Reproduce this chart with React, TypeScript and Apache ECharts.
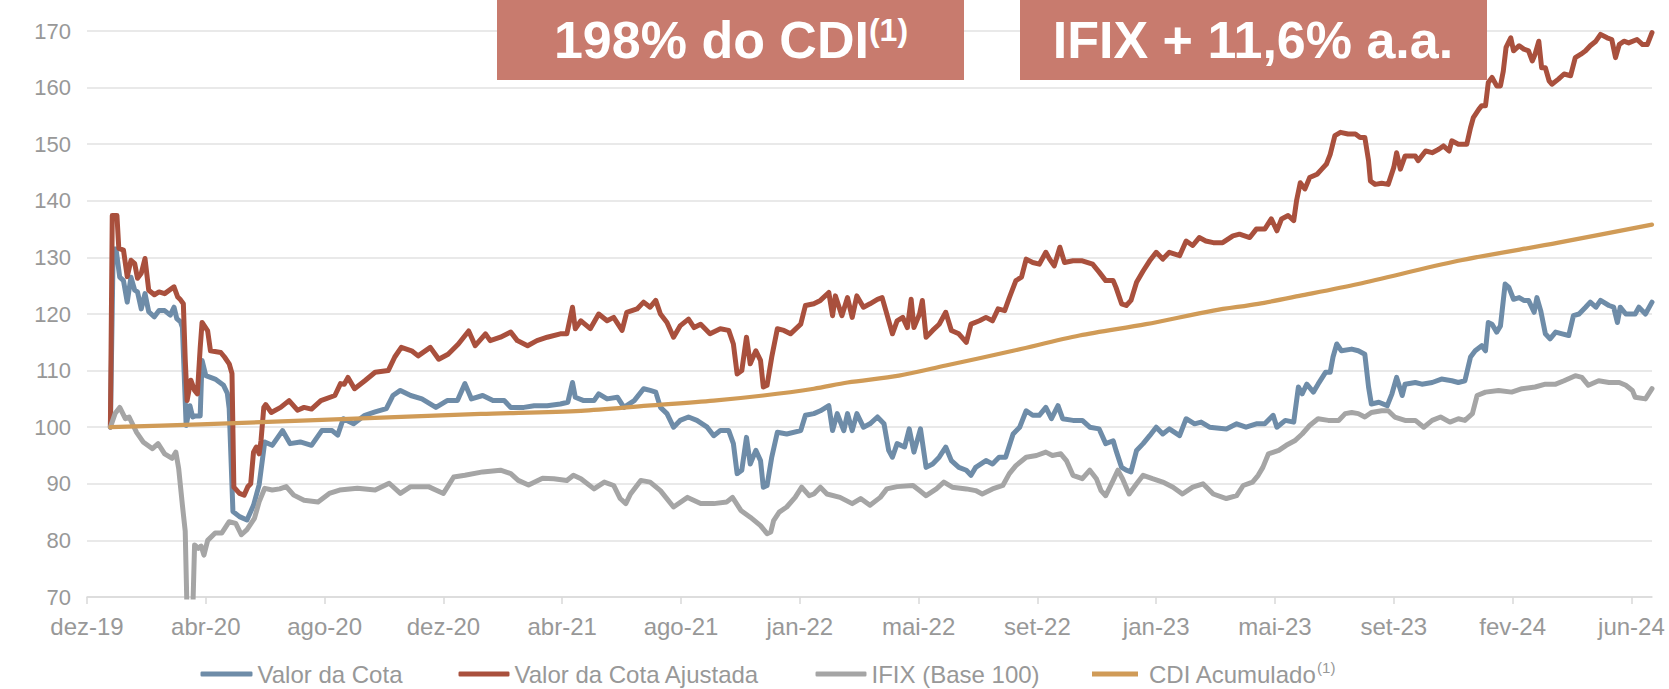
import React, { useEffect, useRef } from "react";
import * as echarts from "echarts";

// x values are calendar days counted from 1 Dec 2019; axis labels every 127 days
const xTickLabels = ["dez-19", "abr-20", "ago-20", "dez-20", "abr-21", "ago-21", "jan-22", "mai-22", "set-22", "jan-23", "mai-23", "set-23", "fev-24", "jun-24"];
const tickStepDays = 127;
const lastDay = 1673;

const seriesNames = ["Valor da Cota", "Valor da Cota Ajustada", "IFIX (Base 100)", "CDI Acumulado"];

const valorCota: [number, number][] = [[25,100],[28,131.5],[31,131.5],[35,126.5],[39,125.9],[43,122.1],[47,126.5],[51,124.2],[54,123.9],[58,120.9],[62,123.6],[66,120.4],[72,119.5],[77,120.6],[83,120.6],[89,119.8],[93,121.2],[96,119.2],[100,118.6],[102,117.6],[106,100.3],[110,103.8],[113,101.8],[116,102],[121,102],[123,111.8],[127,109.1],[137,108.5],[146,107.4],[150,106],[152,103.3],[156,85.1],[163,84.2],[171,83.6],[178,86.2],[184,89.8],[190,97.4],[198,96.8],[209,99.4],[217,97.1],[228,97.4],[240,96.8],[251,99.4],[262,99.4],[268,98.6],[274,101.5],[285,100.6],[297,102.1],[308,102.7],[320,103.3],[327,105.6],[335,106.5],[346,105.6],[358,105],[373,103.5],[385,104.7],[396,104.7],[404,107.7],[411,105],[423,105.6],[434,104.7],[446,104.7],[453,103.5],[467,103.5],[478,103.8],[492,103.8],[506,104.1],[514,104.4],[519,107.9],[522,105.3],[531,104.7],[542,104.7],[547,105.9],[556,105],[567,105.3],[574,103.5],[585,104.7],[595,106.8],[602,106.5],[608,106.2],[613,103.5],[620,102.4],[627,100],[634,101.2],[643,101.8],[652,101.2],[663,100],[670,98.5],[677,99.4],[686,99.4],[691,97.1],[695,91.8],[700,92.4],[705,98.2],[709,93.5],[715,95.9],[720,94.1],[723,89.4],[727,89.7],[732,94.7],[738,99.1],[748,98.8],[763,99.4],[768,102.1],[777,102.4],[784,102.9],[793,103.8],[797,99.4],[802,102.4],[809,99.4],[813,102.4],[818,99.4],[823,102.4],[830,100],[837,100.6],[845,101.8],[852,100.6],[857,95.9],[861,94.7],[866,97.1],[874,96.5],[879,99.7],[884,95.6],[891,99.7],[897,92.9],[904,93.5],[911,94.7],[918,96.5],[924,94.1],[932,92.9],[940,92.4],[945,91.5],[950,92.9],[961,94.1],[968,93.5],[975,94.7],[982,94.7],[990,98.8],[997,100],[1004,102.9],[1011,102.1],[1018,102.1],[1025,103.5],[1031,101.5],[1038,103.8],[1043,101.5],[1054,101.2],[1064,101.2],[1072,100],[1082,99.7],[1089,97.1],[1097,97.6],[1100,95.9],[1106,92.9],[1111,92.4],[1116,92.1],[1122,95.9],[1129,97.1],[1136,98.5],[1143,100],[1150,98.8],[1157,99.7],[1168,98.5],[1175,101.5],[1184,100.6],[1191,100.9],[1200,100],[1218,99.7],[1229,100.6],[1239,100],[1250,100.6],[1259,100.6],[1268,102.1],[1272,100],[1281,101.2],[1290,100.9],[1295,107.1],[1299,105.9],[1304,107.6],[1311,106.2],[1316,107.6],[1324,109.7],[1329,109.7],[1332,112.4],[1336,114.7],[1341,113.5],[1352,113.8],[1359,113.5],[1366,112.9],[1370,107.1],[1373,104.1],[1381,104.4],[1390,103.8],[1395,105.9],[1400,108.8],[1406,105.6],[1409,107.6],[1420,107.9],[1427,107.6],[1438,107.9],[1448,108.5],[1459,108.2],[1466,107.9],[1473,108.2],[1479,112.4],[1484,113.5],[1491,114.4],[1495,113.5],[1498,118.5],[1502,118.2],[1507,116.8],[1511,117.9],[1516,125.3],[1520,124.7],[1525,122.6],[1531,122.9],[1536,122.4],[1541,122.4],[1547,120.3],[1550,122.9],[1554,120.6],[1559,116.5],[1564,115.6],[1570,116.8],[1577,116.5],[1584,116.2],[1589,119.7],[1595,120],[1602,121.2],[1607,122.1],[1613,121.2],[1618,122.4],[1627,121.5],[1632,121.2],[1636,118.5],[1639,121.2],[1645,120],[1655,120],[1659,121.2],[1666,120],[1673,122.1]];

const valorCotaAjustada: [number, number][] = [[25,100],[27,137.4],[32,137.4],[34,131.6],[39,131.3],[43,126.6],[47,129.5],[51,128.9],[54,126.3],[58,127.2],[62,129.8],[66,124.2],[72,123.4],[77,123.9],[83,123.6],[93,124.8],[97,123],[100,122.5],[103,121.8],[105,112],[107,104.7],[111,108.3],[115,106.5],[118,105.9],[121,114],[123,118.5],[129,117],[132,113.5],[143,113.2],[147,112.4],[152,111.2],[155,109.5],[157,89.4],[163,88.3],[168,88],[172,89.5],[175,90],[178,95.6],[181,96.5],[184,95.3],[186,97.6],[189,103.5],[191,104],[197,102.6],[207,103.5],[216,104.7],[225,103],[232,103.5],[240,103.2],[250,104.7],[265,105.6],[271,107.7],[275,107.6],[279,108.8],[286,106.8],[297,108.2],[308,109.7],[322,110],[329,112.4],[336,114.1],[347,113.5],[354,112.6],[367,114.1],[376,112],[386,112.9],[397,114.7],[408,117],[415,114.4],[426,116.5],[431,115.3],[442,115.9],[453,116.8],[460,115.3],[471,114.4],[481,115.3],[492,115.9],[506,116.5],[513,116.5],[519,121.2],[522,117.4],[528,118.8],[538,117.4],[547,120],[556,118.8],[563,119.4],[572,117.1],[577,120.3],[588,120.9],[595,122.1],[602,121.2],[608,122.4],[613,120],[620,118.5],[627,115.9],[634,117.9],[643,119.1],[649,117.6],[656,118.2],[666,116.5],[677,117.4],[686,117.1],[691,114.7],[695,109.4],[700,110],[705,115.9],[709,111.2],[715,113.5],[720,111.8],[723,107.1],[727,107.4],[732,112.4],[738,117.4],[745,117.1],[752,116.5],[763,118.2],[768,121.5],[777,121.8],[784,122.4],[793,123.8],[797,119.7],[800,123.2],[807,119.7],[813,122.9],[818,119.4],[823,123.2],[830,121.2],[837,121.8],[845,122.6],[850,122.9],[854,120.6],[861,116.5],[866,118.8],[872,119.4],[877,117.6],[881,122.6],[884,117.6],[890,120],[893,122.4],[897,115.9],[904,117.1],[911,118.2],[918,120.3],[924,117.1],[932,116.5],[940,115],[945,118.2],[954,118.8],[961,119.4],[968,118.8],[974,120.9],[981,120.6],[986,122.9],[993,125.9],[999,126.5],[1004,129.7],[1011,129.1],[1018,128.8],[1025,130.9],[1029,129.7],[1034,128.5],[1040,131.8],[1045,129.1],[1054,129.4],[1064,129.4],[1075,128.8],[1082,127.4],[1089,125.9],[1097,125.9],[1100,124.7],[1106,121.8],[1111,121.5],[1116,122.4],[1122,125.6],[1129,127.6],[1136,129.4],[1143,130.9],[1150,129.7],[1157,130.9],[1168,130.3],[1175,132.9],[1182,132.1],[1189,133.5],[1196,132.9],[1204,132.6],[1214,132.6],[1225,133.8],[1232,134.1],[1243,133.5],[1250,135],[1259,135],[1266,136.8],[1272,134.7],[1277,136.8],[1284,137.4],[1290,136.5],[1293,140],[1297,143.2],[1302,142.1],[1307,144.1],[1315,144.7],[1320,145.6],[1325,146.5],[1329,148.2],[1334,151.5],[1340,152.1],[1348,151.8],[1356,151.8],[1361,151.2],[1366,151.2],[1370,147.1],[1372,143.5],[1377,142.9],[1384,143.1],[1391,142.9],[1397,145.9],[1400,148.5],[1404,145.6],[1409,147.9],[1420,147.9],[1423,147.1],[1431,148.8],[1438,148.5],[1445,149.1],[1450,149.7],[1456,148.8],[1459,150.6],[1466,150],[1475,150],[1479,152.9],[1482,154.7],[1488,156.2],[1491,156.8],[1495,156.8],[1498,160.9],[1502,161.8],[1507,160.3],[1511,160.3],[1514,162.9],[1517,167.1],[1522,168.8],[1525,166.5],[1531,167.4],[1536,166.8],[1541,166.5],[1545,164.7],[1548,165.9],[1552,168.2],[1555,163.5],[1559,163.5],[1563,161.2],[1566,160.6],[1573,161.5],[1579,162.4],[1586,162.1],[1591,165.3],[1597,165.9],[1602,166.5],[1607,167.4],[1613,168.2],[1618,169.4],[1625,168.8],[1630,168.5],[1634,165.3],[1638,167.6],[1643,168.2],[1648,167.9],[1657,168.5],[1663,167.6],[1668,167.6],[1673,169.7]];

const ifixBase100: [number, number][] = [[25,100],[30,102.4],[35,103.5],[41,101.5],[45,101.8],[53,99.1],[60,97.4],[70,96.2],[76,97.1],[83,95.3],[91,94.5],[95,95.6],[98,92.7],[102,86.2],[105,81.6],[107,67],[113,67],[115,79.2],[119,78.6],[122,79],[125,77.4],[129,80],[137,81.3],[144,81.3],[152,83.3],[159,83],[165,81],[171,81.9],[179,83.9],[184,86.8],[190,89.2],[198,88.9],[206,89.1],[213,89.5],[221,88],[232,87.1],[247,86.8],[259,88.3],[270,88.9],[289,89.2],[308,88.9],[323,90.1],[335,88.3],[346,89.5],[365,89.5],[381,88.3],[392,91.2],[404,91.5],[423,92.1],[442,92.4],[453,91.8],[461,90.6],[472,89.8],[487,91],[499,90.9],[513,90.6],[520,91.5],[528,90.9],[542,89.1],[553,90.3],[563,89.7],[570,87.4],[576,86.5],[581,88.2],[592,90.6],[602,90.3],[613,88.8],[627,85.9],[642,87.6],[656,86.5],[670,86.5],[684,86.8],[690,87.6],[699,85.3],[709,84.1],[720,82.6],[727,81.2],[731,81.5],[734,83.5],[740,85],[748,85.9],[757,87.6],[764,89.4],[772,87.9],[777,88.2],[784,89.4],[791,88.2],[805,87.6],[818,86.5],[827,87.4],[837,86.2],[848,87.6],[855,89.1],[866,89.5],[883,89.7],[890,88.8],[897,87.9],[908,89.1],[916,90.3],[925,89.4],[940,89.1],[950,88.8],[957,88.2],[968,89.1],[979,89.7],[986,91.8],[993,93.2],[1004,94.7],[1015,95],[1025,95.6],[1032,95],[1041,95.3],[1047,94.1],[1054,91.5],[1064,90.9],[1072,92.4],[1079,90.9],[1084,88.8],[1089,87.9],[1097,90.6],[1102,92.4],[1107,90.9],[1114,88.2],[1122,90],[1129,91.5],[1139,90.9],[1150,90.3],[1161,89.4],[1171,88.2],[1182,89.4],[1193,90],[1204,88.2],[1218,87.4],[1229,87.9],[1236,89.7],[1246,90.3],[1252,91.5],[1257,92.9],[1263,95.3],[1274,95.9],[1282,96.8],[1291,97.6],[1299,98.8],[1307,100.3],[1316,101.5],[1327,101.2],[1338,101.2],[1345,102.4],[1352,102.6],[1359,102.4],[1366,101.8],[1373,102.6],[1384,102.9],[1391,102.9],[1398,101.8],[1409,101.2],[1420,101.2],[1429,100],[1438,101.2],[1447,101.8],[1457,100.9],[1466,101.5],[1473,101.2],[1481,102.4],[1486,105.6],[1495,106.2],[1509,106.5],[1523,106.2],[1534,106.8],[1548,107.1],[1559,107.6],[1570,107.6],[1579,108.2],[1591,109.1],[1598,108.8],[1605,107.4],[1616,108.2],[1627,107.9],[1638,107.9],[1645,107.4],[1652,106.5],[1655,105.3],[1666,105],[1673,106.8]];

const cdiAcumulado: [number, number][] = [[25,100],[121,100.5],[251,101.3],[421,102.35],[528,102.9],[599,103.8],[670,104.7],[723,105.6],[777,106.8],[813,107.9],[868,109.1],[918,110.9],[990,113.5],[1061,116.2],[1132,118.2],[1204,120.6],[1252,121.8],[1296,123.2],[1359,125.3],[1466,129.4],[1573,132.6],[1673,135.8]];

const headlineLeft = "198% do CDI";
const headlineRight = "IFIX + 11,6% a.a.";
const footnoteMark = "(1)";

const FONT = "'Liberation Sans', Arial, Helvetica, sans-serif";
const TEXT_GRAY = "#989898";
const GRID_GRAY = "#E2E2E2";
const COLORS = ["#6E8CA8", "#A9503D", "#A5A5A5", "#D09B57"];
const BOX = "#C87B6E";

export default function App() {
  const ref = useRef<HTMLDivElement>(null);

  useEffect(() => {
    if (!ref.current) return;
    const chart = echarts.init(ref.current, undefined, { renderer: "svg" });
    const tickValues = xTickLabels.map((_, i) => i * tickStepDays);
    const datasets = [valorCota, valorCotaAjustada, ifixBase100, cdiAcumulado];

    const legendText = { color: TEXT_GRAY, fontSize: 24, fontFamily: FONT, lineHeight: 28 };
    const legendBase = {
      top: 660,
      padding: 0,
      itemHeight: 5,
      icon: "roundRect",
      selectedMode: false,
      textStyle: legendText,
    };

    const option: any = {
      animation: false,
      backgroundColor: "#ffffff",
      grid: { left: 87, right: 17, top: 31, bottom: 92, containLabel: false },
      xAxis: {
        type: "value",
        min: 0,
        max: lastDay,
        interval: tickStepDays,
        splitLine: { show: false },
        axisLine: { show: true, lineStyle: { color: "#D9D9D9", width: 1.5 } },
        axisTick: { show: true, length: 7, customValues: tickValues, lineStyle: { color: "#D9D9D9", width: 1.5 } },
        axisLabel: {
          customValues: tickValues,
          color: TEXT_GRAY,
          fontSize: 24,
          fontFamily: FONT,
          margin: 17,
          formatter: (v: number) => xTickLabels[Math.round(v / tickStepDays)] ?? "",
        },
      },
      yAxis: {
        type: "value",
        min: 70,
        max: 170,
        interval: 10,
        axisLine: { show: false },
        axisTick: { show: false },
        splitLine: { lineStyle: { color: GRID_GRAY, width: 1.5 } },
        axisLabel: { color: TEXT_GRAY, fontSize: 22, fontFamily: FONT, margin: 16 },
      },
      legend: [
        { ...legendBase, left: 200.5, itemWidth: 52, data: [seriesNames[0]], lineStyle: { width: 5.5, cap: "round" } },
        { ...legendBase, left: 458.5, itemWidth: 51, data: [seriesNames[1]], lineStyle: { width: 5.5, cap: "round" } },
        { ...legendBase, left: 815.5, itemWidth: 51, data: [seriesNames[2]], lineStyle: { width: 5.5, cap: "round" } },
        {
          ...legendBase,
          icon: "rect",
          left: 1092,
          itemWidth: 46,
          data: [seriesNames[3]],
          lineStyle: { width: 5.5, cap: "butt" },
          formatter: (name: string) => `{a|${name}}{s|${footnoteMark}}`,
          textStyle: {
            ...legendText,
            rich: {
              a: { color: TEXT_GRAY, fontSize: 24, fontFamily: FONT, lineHeight: 28, padding: [0, 0, 0, 6] },
              s: { color: TEXT_GRAY, fontSize: 15, fontFamily: FONT, lineHeight: 28, verticalAlign: "top" },
            },
          },
        },
      ],
      series: datasets.map((d, i) => ({
        name: seriesNames[i],
        type: "line",
        data: d,
        symbol: "none",
        showSymbol: false,
        smooth: i === 3 ? 0.3 : false,
        clip: true,
        color: COLORS[i],
        lineStyle: { color: COLORS[i], width: i === 3 ? 4.2 : 5, join: "round", cap: "round" },
        z: 2 + i,
      })),
      graphic: [
        { type: "rect", shape: { x: 497, y: 0, width: 467, height: 80 }, style: { fill: BOX }, z: 100 },
        { type: "rect", shape: { x: 1020, y: 0, width: 467, height: 80 }, style: { fill: BOX }, z: 100 },
        {
          type: "text",
          x: 731,
          y: 40,
          z: 101,
          style: {
            text: `{m|${headlineLeft}}{s|${footnoteMark}}`,
            align: "center",
            verticalAlign: "middle",
            fill: "#ffffff",
            rich: {
              m: { fontSize: 52, fontWeight: "bold", fontFamily: FONT, fill: "#ffffff", lineHeight: 52 },
              s: { fontSize: 32, fontWeight: "bold", fontFamily: FONT, fill: "#ffffff", lineHeight: 52, verticalAlign: "top" },
            },
          },
        },
        {
          type: "text",
          x: 1253,
          y: 40,
          z: 101,
          style: {
            text: headlineRight,
            align: "center",
            verticalAlign: "middle",
            fill: "#ffffff",
            fontSize: 52,
            fontWeight: "bold",
            fontFamily: FONT,
          },
        },
      ],
    };
    chart.setOption(option);
    return () => chart.dispose();
  }, []);

  return (
    <div
      ref={ref}
      style={{ position: "absolute", left: 0, top: 0, width: 1669, height: 689, background: "#fff" }}
    />
  );
}
